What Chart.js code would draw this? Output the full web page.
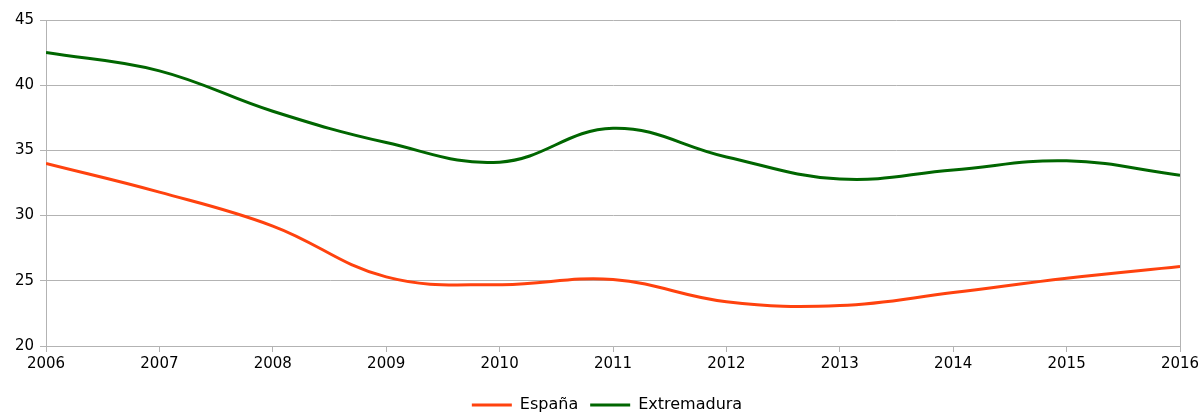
<!DOCTYPE html>
<html>
<head>
<meta charset="utf-8">
<script src="https://cdn.jsdelivr.net/npm/chart.js@4/dist/chart.umd.min.js"></script>
<style>
html,body{margin:0;padding:0;background:#fff;}
#wrap{width:1200px;height:412px;}
</style>
</head>
<body>
<div id="wrap"><canvas id="c" width="1200" height="412"></canvas></div>
<script>
const years = [2006, 2007, 2008, 2009, 2010, 2011, 2012, 2013, 2014, 2015, 2016];
const espana = [34.0, 31.8, 29.2, 25.3, 24.7, 25.1, 23.4, 23.1, 24.1, 25.2, 26.1];
const extremadura = [42.5, 41.1, 38.0, 35.6, 34.1, 36.7, 34.5, 32.8, 33.5, 34.2, 33.1];
const seriesNames = ['España', 'Extremadura'];
const yTicks = [20, 25, 30, 35, 40, 45];

const toPts = arr => arr.map((v, i) => ({x: years[i], y: v}));
const FONT = {family: 'DejaVu Sans', size: 15};
const LEGEND_FONT = {family: 'DejaVu Sans', size: 16};

new Chart(document.getElementById('c'), {
  type: 'line',
  data: {
    datasets: [
      {label: seriesNames[0], data: toPts(espana), borderColor: '#ff420e', backgroundColor: '#ff420e', borderWidth: 3, pointRadius: 0, tension: 0.4, fill: false},
      {label: seriesNames[1], data: toPts(extremadura), borderColor: '#006600', backgroundColor: '#006600', borderWidth: 3, pointRadius: 0, tension: 0.4, fill: false}
    ]
  },
  options: {
    responsive: false,
    animation: false,
    layout: {padding: {left: 0, right: 20, top: 20, bottom: -11}},
    plugins: {
      legend: {
        position: 'bottom',
        labels: {
          font: LEGEND_FONT, color: '#000', boxWidth: 40, boxHeight: 3, padding: 12,
          generateLabels: chart => Chart.defaults.plugins.legend.labels.generateLabels(chart).map(l => Object.assign({}, l, {lineWidth: 0}))
        }
      },
      tooltip: {enabled: false}
    },
    scales: {
      x: {
        type: 'linear',
        min: years[0], max: years[years.length - 1],
        afterBuildTicks: s => { s.ticks = years.map(v => ({value: v})); },
        ticks: {font: FONT, color: '#000', padding: 3, maxRotation: 0, callback: v => String(v)},
        grid: {display: true, drawOnChartArea: false, color: '#b3b3b3', tickLength: 6},
        border: {color: '#b3b3b3', width: 1},
        afterFit: s => { s.height = 39; s.paddingLeft = 0; s.paddingRight = 0; }
      },
      y: {
        min: yTicks[0], max: yTicks[yTicks.length - 1],
        afterBuildTicks: s => { s.ticks = yTicks.map(v => ({value: v})); },
        ticks: {font: FONT, color: '#000', padding: 6},
        grid: {color: '#b3b3b3', tickLength: 6, lineWidth: 1},
        border: {color: '#b3b3b3', width: 1},
        afterFit: s => { s.width = 46; s.paddingTop = 0; s.paddingBottom = 0; }
      }
    }
  },
  plugins: [{
    id: 'legendShift',
    afterLayout(chart) {
      if (chart.legend) { chart.legend.left += 17; chart.legend.right += 17; }
    }
  }, {
    id: 'rightBorder',
    afterDraw(chart) {
      const {ctx, chartArea} = chart;
      ctx.save();
      ctx.strokeStyle = '#b3b3b3';
      ctx.lineWidth = 1;
      ctx.beginPath();
      ctx.moveTo(Math.round(chartArea.right) + 0.5, chartArea.top);
      ctx.lineTo(Math.round(chartArea.right) + 0.5, chartArea.bottom + 6);
      ctx.stroke();
      ctx.restore();
    }
  }]
});
</script>
</body>
</html>
